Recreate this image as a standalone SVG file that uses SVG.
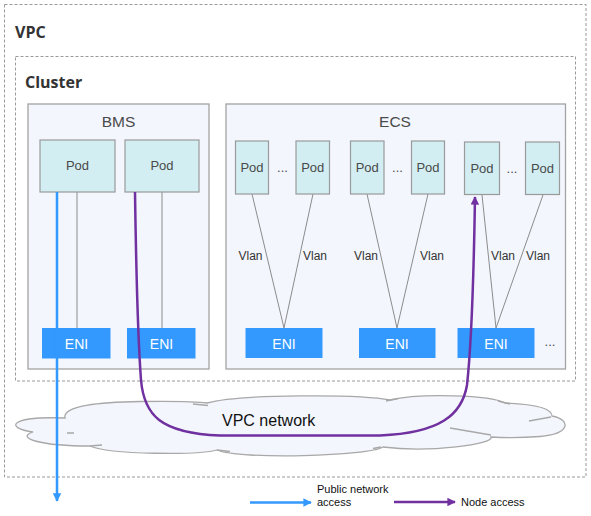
<svg xmlns="http://www.w3.org/2000/svg" width="591" height="516" viewBox="0 0 591 516">
<style>
.dash{fill:none;stroke:#9a9a9a;stroke-width:1;stroke-dasharray:3 2}
.host{fill:#f3f6fd;stroke:#a3a3a3;stroke-width:1.3}
.pod{fill:#d2eef2;stroke:#9a9a9a;stroke-width:1.2}
.eni{fill:#3399ff}
.title{font-family:"Open Sans","Noto Sans",sans-serif;font-weight:bold;font-size:16px;fill:#333}
.hl{font-family:"Liberation Sans",Arial,sans-serif;font-size:15.5px;fill:#4a4a4a;text-anchor:middle}
.pt{font-family:"Liberation Sans",Arial,sans-serif;font-size:13px;fill:#4a4a4a;text-anchor:middle}
.et{font-family:"Liberation Sans",Arial,sans-serif;font-size:14px;fill:#fff;text-anchor:middle}
.vl{font-family:"Liberation Sans",Arial,sans-serif;font-size:12px;fill:#333}
.lg{font-family:"Liberation Sans",Arial,sans-serif;font-size:11px;fill:#111}
.gl{fill:none;stroke:#8c8c8c;stroke-width:1}
.cloud{fill:#f3f6fd;stroke:#a8a8a8;stroke-width:1.3}
.tail{fill:none;stroke:#a8a8a8;stroke-width:1.3}
.blue{fill:none;stroke:#3399ff;stroke-width:2.5}
.purple{fill:none;stroke:#7030a0;stroke-width:2.5}
</style>
<defs>
<marker id="ab" viewBox="0 0 10 10" refX="9" refY="5" markerWidth="3.4" markerHeight="3.4" orient="auto" markerUnits="strokeWidth"><path d="M0,0 L10,5 L0,10 Z" fill="#3399ff"/></marker>
<marker id="ap" viewBox="0 0 10 10" refX="9" refY="5" markerWidth="3.4" markerHeight="3.4" orient="auto" markerUnits="strokeWidth"><path d="M0,0 L10,5 L0,10 Z" fill="#7030a0"/></marker>
</defs>
<rect width="591" height="516" fill="#fff"/>
<g id="vpc">
<rect class="dash" x="4.5" y="4.5" width="581.5" height="472.5"/>
<text class="title" x="15" y="38">VPC</text>
</g>
<g id="cluster">
<rect class="dash" x="15.5" y="56.5" width="560" height="324.5"/>
<text class="title" x="25" y="88">Cluster</text>
</g>
<g id="bms">
<rect class="host" x="28" y="104" width="181" height="265"/>
<text class="hl" x="118.5" y="127">BMS</text>
</g>
<g id="ecs">
<rect class="host" x="226" y="104" width="339.5" height="265"/>
<text class="hl" x="395" y="127">ECS</text>
</g>
<g id="connectors">
<line class="gl" x1="77" y1="192" x2="77" y2="328"/>
<line class="gl" x1="162" y1="192" x2="162" y2="328"/>
<line class="gl" x1="252" y1="194" x2="284" y2="328"/>
<line class="gl" x1="313" y1="194" x2="284" y2="328"/>
<line class="gl" x1="367" y1="194" x2="397" y2="328"/>
<line class="gl" x1="428" y1="194" x2="397" y2="328"/>
<line class="gl" x1="482" y1="195" x2="496" y2="328"/>
<line class="gl" x1="543" y1="195" x2="496" y2="328"/>
</g>
<g id="vlan-labels">
<text class="vl" x="238.5" y="259.5">Vlan</text>
<text class="vl" x="303" y="259.5">Vlan</text>
<text class="vl" x="354" y="259.5">Vlan</text>
<text class="vl" x="420" y="259.5">Vlan</text>
<text class="vl" x="491" y="259.5">Vlan</text>
<text class="vl" x="526" y="259.5">Vlan</text>
</g>
<g id="bms-pod-1"><rect class="pod" x="40" y="140" width="75" height="52"/><text class="pt" x="77.5" y="170">Pod</text></g>
<g id="bms-pod-2"><rect class="pod" x="125" y="140" width="74" height="52"/><text class="pt" x="162" y="170">Pod</text></g>
<g id="ecs-pod-1"><rect class="pod" x="235.5" y="141" width="33" height="53"/><text class="pt" x="252" y="172">Pod</text></g>
<g id="ecs-pod-2"><rect class="pod" x="296" y="141" width="33.5" height="53"/><text class="pt" x="312.7" y="172">Pod</text></g>
<g id="ecs-pod-3"><rect class="pod" x="350.5" y="141" width="33.5" height="53"/><text class="pt" x="367.2" y="172">Pod</text></g>
<g id="ecs-pod-4"><rect class="pod" x="411.5" y="141" width="33" height="53"/><text class="pt" x="428" y="172">Pod</text></g>
<g id="ecs-pod-5"><rect class="pod" x="464.5" y="142" width="35" height="52.5"/><text class="pt" x="482" y="173">Pod</text></g>
<g id="ecs-pod-6"><rect class="pod" x="525.5" y="142" width="34" height="52.5"/><text class="pt" x="542.5" y="173">Pod</text></g>
<g id="dots">
<text class="pt" x="282.5" y="172">...</text>
<text class="pt" x="397.5" y="172">...</text>
<text class="pt" x="512" y="173">...</text>
<text class="pt" x="550" y="346">...</text>
</g>
<g id="bms-eni-1"><rect class="eni" x="42" y="328" width="68.5" height="30.5"/><text class="et" x="76.5" y="349">ENI</text></g>
<g id="bms-eni-2"><rect class="eni" x="127" y="328" width="68.5" height="30.5"/><text class="et" x="161.5" y="349">ENI</text></g>
<g id="ecs-eni-1"><rect class="eni" x="245.5" y="328" width="77" height="30"/><text class="et" x="284" y="349">ENI</text></g>
<g id="ecs-eni-2"><rect class="eni" x="359" y="328" width="76.5" height="30"/><text class="et" x="397" y="349">ENI</text></g>
<g id="ecs-eni-3"><rect class="eni" x="457.5" y="328" width="77" height="30"/><text class="et" x="496" y="349">ENI</text></g>
<g id="vpc-network">
<path class="cloud" d="M65,418 C62,406 100,402 140,401.5 C180,401 200,402 207,403 C240,394 360,394 390,400 C420,393 490,395 505,403 C530,404 552,407 552,416 C572,420 570,434 540,436.5 C520,438 500,437.5 491,437 C495,444 430,453 383,447 C370,456 240,460 217,450 C200,455 110,455 90,446 C40,446 15,438 33,432 C5,428 8,416 65,418 Z"/>
<path class="tail" d="M67,433 L74,433 M90,446 L102,445 M193,404 L208,405.5 M386,401 L398,398.5 M498,401 L510,404 M529,421 L551,417 M450,428 L491,435 M381,447 L373,448.5 M217,450 L230,451.5"/>
<text x="222" y="426" font-family="Liberation Sans, Arial, sans-serif" font-size="16" fill="#111">VPC network</text>
</g>
<g id="flows">
<line class="blue" x1="57" y1="192" x2="57" y2="501" marker-end="url(#ab)"/>
<path class="purple" d="M135,192 C136,260 138,340 141,380 C144,415 160,433 220,435.5 L380,435.5 C440,433 462,415 467,385 C472,340 474,260 475,197" marker-end="url(#ap)"/>
</g>
<g id="legend">
<line class="blue" x1="250" y1="502.5" x2="311" y2="502.5" marker-end="url(#ab)"/>
<text class="lg" x="317" y="493">Public network</text>
<text class="lg" x="317" y="506">access</text>
<line class="purple" x1="394" y1="502" x2="455" y2="502" marker-end="url(#ap)"/>
<text class="lg" x="461" y="506">Node access</text>
</g>
</svg>
